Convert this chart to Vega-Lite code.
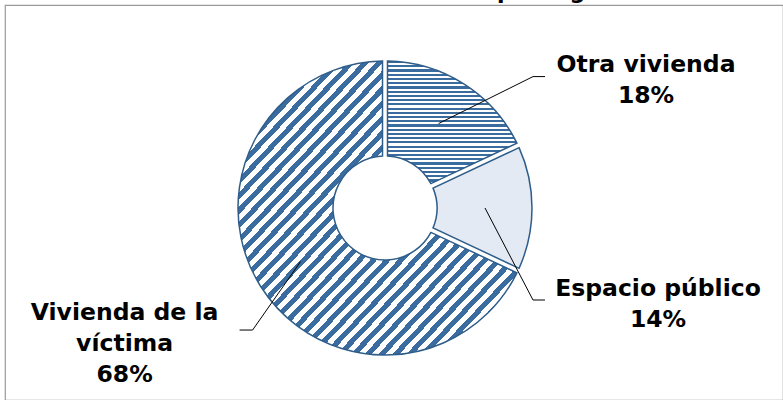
{
  "$schema": "https://vega.github.io/schema/vega-lite/v6.json",
  "width": 778,
  "height": 395,
  "autosize": "none",
  "padding": {"left": 5, "top": 5, "right": 0, "bottom": 0},
  "background": "white",
  "config": {"view": {"stroke": "#9a9a9a", "strokeWidth": 1.2}},
  "title": {"text": "Gráfico 11. Localización del feminicidio por lugar de ocurrencia", "anchor": "start", "frame": "group", "offset": 1.5, "font": "DejaVu Sans", "fontSize": 22, "fontWeight": "bold", "color": "#000000"},
  "params": [
    {"name": "cx", "value": 380},
    {"name": "cy", "value": 203},
    {"name": "lab", "value": {"Otra vivienda": [111, 93], "Espacio público": [-7, 81], "Vivienda de la víctima": [-24, -45]}},
    {"name": "lead", "value": {"Otra vivienda": [-113, 12, -101], "Espacio público": [-125, 11, -113], "Vivienda de la víctima": [128, 17, 115]}}
  ],
  "data": {"values": [
    {"cat": "Otra vivienda", "label": "Otra vivienda", "pct": 18},
    {"cat": "Espacio público", "label": "Espacio público", "pct": 14},
    {"cat": "Vivienda de la víctima", "label": "Vivienda de la\nvíctima", "pct": 68}
  ]},
  "layer": [
    {
      "mark": {"type": "arc", "radius": 147, "radius2": 52, "padAngle": 0.032, "stroke": "#2f5d8a", "strokeWidth": 1.5, "x": {"expr": "cx"}, "y": {"expr": "cy"}},
      "encoding": {
        "theta": {"field": "pct", "type": "quantitative", "stack": true},
        "fill": {
          "condition": [
            {"test": "datum.cat === 'Otra vivienda'", "value": {"gradient": "linear", "x1": 0, "y1": 0, "x2": 0, "y2": 1, "stops": [
{"offset":0,"color":"#3a6c9f"},{"offset":0.01724,"color":"#3a6c9f"},{"offset":0.01724,"color":"#fff"},{"offset":0.03448,"color":"#fff"},
{"offset":0.03448,"color":"#3a6c9f"},{"offset":0.05172,"color":"#3a6c9f"},{"offset":0.05172,"color":"#fff"},{"offset":0.06897,"color":"#fff"},
{"offset":0.06897,"color":"#3a6c9f"},{"offset":0.08621,"color":"#3a6c9f"},{"offset":0.08621,"color":"#fff"},{"offset":0.10345,"color":"#fff"},
{"offset":0.10345,"color":"#3a6c9f"},{"offset":0.12069,"color":"#3a6c9f"},{"offset":0.12069,"color":"#fff"},{"offset":0.13793,"color":"#fff"},
{"offset":0.13793,"color":"#3a6c9f"},{"offset":0.15517,"color":"#3a6c9f"},{"offset":0.15517,"color":"#fff"},{"offset":0.17241,"color":"#fff"},
{"offset":0.17241,"color":"#3a6c9f"},{"offset":0.18966,"color":"#3a6c9f"},{"offset":0.18966,"color":"#fff"},{"offset":0.2069,"color":"#fff"},
{"offset":0.2069,"color":"#3a6c9f"},{"offset":0.22414,"color":"#3a6c9f"},{"offset":0.22414,"color":"#fff"},{"offset":0.24138,"color":"#fff"},
{"offset":0.24138,"color":"#3a6c9f"},{"offset":0.25862,"color":"#3a6c9f"},{"offset":0.25862,"color":"#fff"},{"offset":0.27586,"color":"#fff"},
{"offset":0.27586,"color":"#3a6c9f"},{"offset":0.2931,"color":"#3a6c9f"},{"offset":0.2931,"color":"#fff"},{"offset":0.31034,"color":"#fff"},
{"offset":0.31034,"color":"#3a6c9f"},{"offset":0.32759,"color":"#3a6c9f"},{"offset":0.32759,"color":"#fff"},{"offset":0.34483,"color":"#fff"},
{"offset":0.34483,"color":"#3a6c9f"},{"offset":0.36207,"color":"#3a6c9f"},{"offset":0.36207,"color":"#fff"},{"offset":0.37931,"color":"#fff"},
{"offset":0.37931,"color":"#3a6c9f"},{"offset":0.39655,"color":"#3a6c9f"},{"offset":0.39655,"color":"#fff"},{"offset":0.41379,"color":"#fff"},
{"offset":0.41379,"color":"#3a6c9f"},{"offset":0.43103,"color":"#3a6c9f"},{"offset":0.43103,"color":"#fff"},{"offset":0.44828,"color":"#fff"},
{"offset":0.44828,"color":"#3a6c9f"},{"offset":0.46552,"color":"#3a6c9f"},{"offset":0.46552,"color":"#fff"},{"offset":0.48276,"color":"#fff"},
{"offset":0.48276,"color":"#3a6c9f"},{"offset":0.5,"color":"#3a6c9f"},{"offset":0.5,"color":"#fff"},{"offset":0.51724,"color":"#fff"},
{"offset":0.51724,"color":"#3a6c9f"},{"offset":0.53448,"color":"#3a6c9f"},{"offset":0.53448,"color":"#fff"},{"offset":0.55172,"color":"#fff"},
{"offset":0.55172,"color":"#3a6c9f"},{"offset":0.56897,"color":"#3a6c9f"},{"offset":0.56897,"color":"#fff"},{"offset":0.58621,"color":"#fff"},
{"offset":0.58621,"color":"#3a6c9f"},{"offset":0.60345,"color":"#3a6c9f"},{"offset":0.60345,"color":"#fff"},{"offset":0.62069,"color":"#fff"},
{"offset":0.62069,"color":"#3a6c9f"},{"offset":0.63793,"color":"#3a6c9f"},{"offset":0.63793,"color":"#fff"},{"offset":0.65517,"color":"#fff"},
{"offset":0.65517,"color":"#3a6c9f"},{"offset":0.67241,"color":"#3a6c9f"},{"offset":0.67241,"color":"#fff"},{"offset":0.68966,"color":"#fff"},
{"offset":0.68966,"color":"#3a6c9f"},{"offset":0.7069,"color":"#3a6c9f"},{"offset":0.7069,"color":"#fff"},{"offset":0.72414,"color":"#fff"},
{"offset":0.72414,"color":"#3a6c9f"},{"offset":0.74138,"color":"#3a6c9f"},{"offset":0.74138,"color":"#fff"},{"offset":0.75862,"color":"#fff"},
{"offset":0.75862,"color":"#3a6c9f"},{"offset":0.77586,"color":"#3a6c9f"},{"offset":0.77586,"color":"#fff"},{"offset":0.7931,"color":"#fff"},
{"offset":0.7931,"color":"#3a6c9f"},{"offset":0.81034,"color":"#3a6c9f"},{"offset":0.81034,"color":"#fff"},{"offset":0.82759,"color":"#fff"},
{"offset":0.82759,"color":"#3a6c9f"},{"offset":0.84483,"color":"#3a6c9f"},{"offset":0.84483,"color":"#fff"},{"offset":0.86207,"color":"#fff"},
{"offset":0.86207,"color":"#3a6c9f"},{"offset":0.87931,"color":"#3a6c9f"},{"offset":0.87931,"color":"#fff"},{"offset":0.89655,"color":"#fff"},
{"offset":0.89655,"color":"#3a6c9f"},{"offset":0.91379,"color":"#3a6c9f"},{"offset":0.91379,"color":"#fff"},{"offset":0.93103,"color":"#fff"},
{"offset":0.93103,"color":"#3a6c9f"},{"offset":0.94828,"color":"#3a6c9f"},{"offset":0.94828,"color":"#fff"},{"offset":0.96552,"color":"#fff"},
{"offset":0.96552,"color":"#3a6c9f"},{"offset":0.98276,"color":"#3a6c9f"},{"offset":0.98276,"color":"#fff"},{"offset":1,"color":"#fff"}
            ]}},
            {"test": "datum.cat === 'Espacio público'", "value": "#e3eaf3"}
          ],
          "value": {"gradient": "linear", "x1": 0, "y1": 0, "x2": 1, "y2": 1, "stops": [
{"offset":0,"color":"#3a6c9f"},{"offset":0.0125,"color":"#3a6c9f"},{"offset":0.0125,"color":"#fff"},{"offset":0.025,"color":"#fff"},
{"offset":0.025,"color":"#3a6c9f"},{"offset":0.0375,"color":"#3a6c9f"},{"offset":0.0375,"color":"#fff"},{"offset":0.05,"color":"#fff"},
{"offset":0.05,"color":"#3a6c9f"},{"offset":0.0625,"color":"#3a6c9f"},{"offset":0.0625,"color":"#fff"},{"offset":0.075,"color":"#fff"},
{"offset":0.075,"color":"#3a6c9f"},{"offset":0.0875,"color":"#3a6c9f"},{"offset":0.0875,"color":"#fff"},{"offset":0.1,"color":"#fff"},
{"offset":0.1,"color":"#3a6c9f"},{"offset":0.1125,"color":"#3a6c9f"},{"offset":0.1125,"color":"#fff"},{"offset":0.125,"color":"#fff"},
{"offset":0.125,"color":"#3a6c9f"},{"offset":0.1375,"color":"#3a6c9f"},{"offset":0.1375,"color":"#fff"},{"offset":0.15,"color":"#fff"},
{"offset":0.15,"color":"#3a6c9f"},{"offset":0.1625,"color":"#3a6c9f"},{"offset":0.1625,"color":"#fff"},{"offset":0.175,"color":"#fff"},
{"offset":0.175,"color":"#3a6c9f"},{"offset":0.1875,"color":"#3a6c9f"},{"offset":0.1875,"color":"#fff"},{"offset":0.2,"color":"#fff"},
{"offset":0.2,"color":"#3a6c9f"},{"offset":0.2125,"color":"#3a6c9f"},{"offset":0.2125,"color":"#fff"},{"offset":0.225,"color":"#fff"},
{"offset":0.225,"color":"#3a6c9f"},{"offset":0.2375,"color":"#3a6c9f"},{"offset":0.2375,"color":"#fff"},{"offset":0.25,"color":"#fff"},
{"offset":0.25,"color":"#3a6c9f"},{"offset":0.2625,"color":"#3a6c9f"},{"offset":0.2625,"color":"#fff"},{"offset":0.275,"color":"#fff"},
{"offset":0.275,"color":"#3a6c9f"},{"offset":0.2875,"color":"#3a6c9f"},{"offset":0.2875,"color":"#fff"},{"offset":0.3,"color":"#fff"},
{"offset":0.3,"color":"#3a6c9f"},{"offset":0.3125,"color":"#3a6c9f"},{"offset":0.3125,"color":"#fff"},{"offset":0.325,"color":"#fff"},
{"offset":0.325,"color":"#3a6c9f"},{"offset":0.3375,"color":"#3a6c9f"},{"offset":0.3375,"color":"#fff"},{"offset":0.35,"color":"#fff"},
{"offset":0.35,"color":"#3a6c9f"},{"offset":0.3625,"color":"#3a6c9f"},{"offset":0.3625,"color":"#fff"},{"offset":0.375,"color":"#fff"},
{"offset":0.375,"color":"#3a6c9f"},{"offset":0.3875,"color":"#3a6c9f"},{"offset":0.3875,"color":"#fff"},{"offset":0.4,"color":"#fff"},
{"offset":0.4,"color":"#3a6c9f"},{"offset":0.4125,"color":"#3a6c9f"},{"offset":0.4125,"color":"#fff"},{"offset":0.425,"color":"#fff"},
{"offset":0.425,"color":"#3a6c9f"},{"offset":0.4375,"color":"#3a6c9f"},{"offset":0.4375,"color":"#fff"},{"offset":0.45,"color":"#fff"},
{"offset":0.45,"color":"#3a6c9f"},{"offset":0.4625,"color":"#3a6c9f"},{"offset":0.4625,"color":"#fff"},{"offset":0.475,"color":"#fff"},
{"offset":0.475,"color":"#3a6c9f"},{"offset":0.4875,"color":"#3a6c9f"},{"offset":0.4875,"color":"#fff"},{"offset":0.5,"color":"#fff"},
{"offset":0.5,"color":"#3a6c9f"},{"offset":0.5125,"color":"#3a6c9f"},{"offset":0.5125,"color":"#fff"},{"offset":0.525,"color":"#fff"},
{"offset":0.525,"color":"#3a6c9f"},{"offset":0.5375,"color":"#3a6c9f"},{"offset":0.5375,"color":"#fff"},{"offset":0.55,"color":"#fff"},
{"offset":0.55,"color":"#3a6c9f"},{"offset":0.5625,"color":"#3a6c9f"},{"offset":0.5625,"color":"#fff"},{"offset":0.575,"color":"#fff"},
{"offset":0.575,"color":"#3a6c9f"},{"offset":0.5875,"color":"#3a6c9f"},{"offset":0.5875,"color":"#fff"},{"offset":0.6,"color":"#fff"},
{"offset":0.6,"color":"#3a6c9f"},{"offset":0.6125,"color":"#3a6c9f"},{"offset":0.6125,"color":"#fff"},{"offset":0.625,"color":"#fff"},
{"offset":0.625,"color":"#3a6c9f"},{"offset":0.6375,"color":"#3a6c9f"},{"offset":0.6375,"color":"#fff"},{"offset":0.65,"color":"#fff"},
{"offset":0.65,"color":"#3a6c9f"},{"offset":0.6625,"color":"#3a6c9f"},{"offset":0.6625,"color":"#fff"},{"offset":0.675,"color":"#fff"},
{"offset":0.675,"color":"#3a6c9f"},{"offset":0.6875,"color":"#3a6c9f"},{"offset":0.6875,"color":"#fff"},{"offset":0.7,"color":"#fff"},
{"offset":0.7,"color":"#3a6c9f"},{"offset":0.7125,"color":"#3a6c9f"},{"offset":0.7125,"color":"#fff"},{"offset":0.725,"color":"#fff"},
{"offset":0.725,"color":"#3a6c9f"},{"offset":0.7375,"color":"#3a6c9f"},{"offset":0.7375,"color":"#fff"},{"offset":0.75,"color":"#fff"},
{"offset":0.75,"color":"#3a6c9f"},{"offset":0.7625,"color":"#3a6c9f"},{"offset":0.7625,"color":"#fff"},{"offset":0.775,"color":"#fff"},
{"offset":0.775,"color":"#3a6c9f"},{"offset":0.7875,"color":"#3a6c9f"},{"offset":0.7875,"color":"#fff"},{"offset":0.8,"color":"#fff"},
{"offset":0.8,"color":"#3a6c9f"},{"offset":0.8125,"color":"#3a6c9f"},{"offset":0.8125,"color":"#fff"},{"offset":0.825,"color":"#fff"},
{"offset":0.825,"color":"#3a6c9f"},{"offset":0.8375,"color":"#3a6c9f"},{"offset":0.8375,"color":"#fff"},{"offset":0.85,"color":"#fff"},
{"offset":0.85,"color":"#3a6c9f"},{"offset":0.8625,"color":"#3a6c9f"},{"offset":0.8625,"color":"#fff"},{"offset":0.875,"color":"#fff"},
{"offset":0.875,"color":"#3a6c9f"},{"offset":0.8875,"color":"#3a6c9f"},{"offset":0.8875,"color":"#fff"},{"offset":0.9,"color":"#fff"},
{"offset":0.9,"color":"#3a6c9f"},{"offset":0.9125,"color":"#3a6c9f"},{"offset":0.9125,"color":"#fff"},{"offset":0.925,"color":"#fff"},
{"offset":0.925,"color":"#3a6c9f"},{"offset":0.9375,"color":"#3a6c9f"},{"offset":0.9375,"color":"#fff"},{"offset":0.95,"color":"#fff"},
{"offset":0.95,"color":"#3a6c9f"},{"offset":0.9625,"color":"#3a6c9f"},{"offset":0.9625,"color":"#fff"},{"offset":0.975,"color":"#fff"},
{"offset":0.975,"color":"#3a6c9f"},{"offset":0.9875,"color":"#3a6c9f"},{"offset":0.9875,"color":"#fff"},{"offset":1,"color":"#fff"}
          ]}
        }
      }
    },
    {
      "transform": [
        {"window": [{"op": "sum", "field": "pct", "as": "cum"}], "frame": [null, 0]},
        {"calculate": "(datum.cum - datum.pct / 2) * PI / 50", "as": "mid"}
      ],
      "mark": {"type": "rule", "color": "#000000", "strokeWidth": 1},
      "encoding": {
        "x": {"value": {"expr": "cx + 100 * sin(datum.mid)"}},
        "y": {"value": {"expr": "cy - 100 * cos(datum.mid)"}},
        "x2": {"value": {"expr": "cx + 280 * sin(datum.mid) + lab[datum.cat][0] + lead[datum.cat][0]"}},
        "y2": {"value": {"expr": "cy - 280 * cos(datum.mid) + lab[datum.cat][1] + lead[datum.cat][1]"}}
      }
    },
    {
      "transform": [
        {"window": [{"op": "sum", "field": "pct", "as": "cum"}], "frame": [null, 0]},
        {"calculate": "(datum.cum - datum.pct / 2) * PI / 50", "as": "mid"}
      ],
      "mark": {"type": "rule", "color": "#000000", "strokeWidth": 1},
      "encoding": {
        "x": {"value": {"expr": "cx + 280 * sin(datum.mid) + lab[datum.cat][0] + lead[datum.cat][0]"}},
        "y": {"value": {"expr": "cy - 280 * cos(datum.mid) + lab[datum.cat][1] + lead[datum.cat][1]"}},
        "x2": {"value": {"expr": "cx + 280 * sin(datum.mid) + lab[datum.cat][0] + lead[datum.cat][2]"}},
        "y2": {"value": {"expr": "cy - 280 * cos(datum.mid) + lab[datum.cat][1] + lead[datum.cat][1]"}}
      }
    },
    {
      "transform": [
        {"window": [{"op": "sum", "field": "pct", "as": "cum"}], "frame": [null, 0]},
        {"calculate": "(datum.cum - datum.pct / 2) * PI / 50", "as": "mid"},
        {"calculate": "datum.label + '\\n' + datum.pct + '%'", "as": "txt"}
      ],
      "mark": {"type": "text", "x": {"expr": "cx + 280 * sin(datum.mid) + lab[datum.cat][0]"}, "y": {"expr": "cy - 280 * cos(datum.mid) + lab[datum.cat][1]"}, "font": "DejaVu Sans", "fontWeight": "bold", "fontSize": 23.5, "lineHeight": 31, "lineBreak": "\n", "align": "center", "baseline": "middle", "color": "#000000"},
      "encoding": {
        "text": {"field": "txt"}
      }
    }
  ]
}
